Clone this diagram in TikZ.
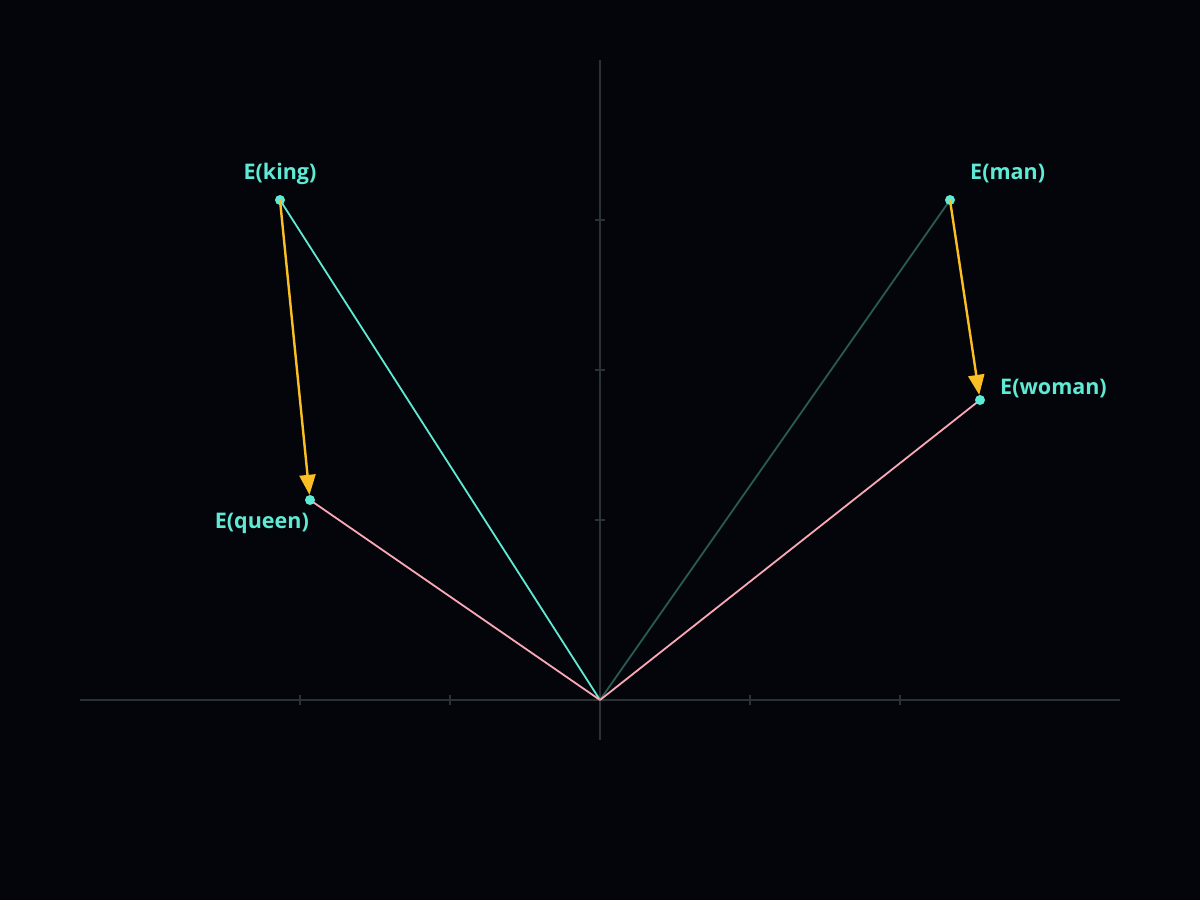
\documentclass[tikz,border=0pt]{standalone}
\usepackage{fontspec}
\setmainfont{Open Sans}
\usetikzlibrary{arrows.meta}
\definecolor{bg}{HTML}{03050A}
\definecolor{axisc}{HTML}{2A3236}
\definecolor{tealc}{HTML}{5EEAD4}
\definecolor{pinkc}{HTML}{F9A8B4}
\definecolor{dteal}{HTML}{2B5A52}
\definecolor{amber}{HTML}{FBBF24}
\tikzset{
  axisline/.style={draw=axisc, line width=1.5pt},
  tickline/.style={draw=axisc, line width=1.2pt},
  dotnode/.style={circle, fill=tealc, inner sep=0pt, minimum size=10pt},
  lbl/.style={text=tealc, font=\fontsize{21.5}{25}\selectfont\bfseries, inner sep=0pt},
  vec/.style={line width=1.8pt},
  diffarrow/.style={draw=amber, line width=2.4pt, -{Triangle[length=20pt,width=16pt]}},
}
\begin{document}
\begin{tikzpicture}[x=1pt,y=-1pt]
\fill[bg] (0,0) rectangle (1200,900);
\useasboundingbox (0,0) rectangle (1200,900);
% axes
\coordinate (xl) at (80,700);
\coordinate (xr) at (1120,700);
\coordinate (yt) at (600,60);
\coordinate (yb) at (600,740);
\draw[axisline] (xl) -- (xr);
\draw[axisline] (yt) -- (yb);
\foreach \x in {300,450,750,900} \draw[tickline] (\x,695) -- (\x,705);
\foreach \y in {220,370,520} \draw[tickline] (595,\y) -- (605,\y);
% points
\coordinate (o) at (600,700);
\coordinate (king) at (280,200);
\coordinate (queen) at (310,500);
\coordinate (man) at (950,200);
\coordinate (woman) at (980,400);
% vectors
\draw[vec, draw=tealc] (o) -- (king);
\draw[vec, draw=pinkc] (o) -- (queen);
\draw[vec, draw=dteal] (o) -- (man);
\draw[vec, draw=pinkc] (o) -- (woman);
% dots
\node[dotnode] (kd) at (king) {};
\node[dotnode] (qd) at (queen) {};
\node[dotnode] (md) at (man) {};
\node[dotnode] (wd) at (woman) {};
% difference arrows
\draw[diffarrow] (kd.center) -- (qd);
\draw[diffarrow] (md.center) -- (wd);
% labels
\node[lbl, anchor=center] (kl) at (280,173.5) {E(king)};
\node[lbl, anchor=west] (ml) at (970,173.5) {E(man)};
\node[lbl, anchor=west] (wl) at (1000,388.5) {E(woman)};
\node[lbl, anchor=east] (ql) at (309,523.5) {E(queen)};
\end{tikzpicture}
\end{document}
